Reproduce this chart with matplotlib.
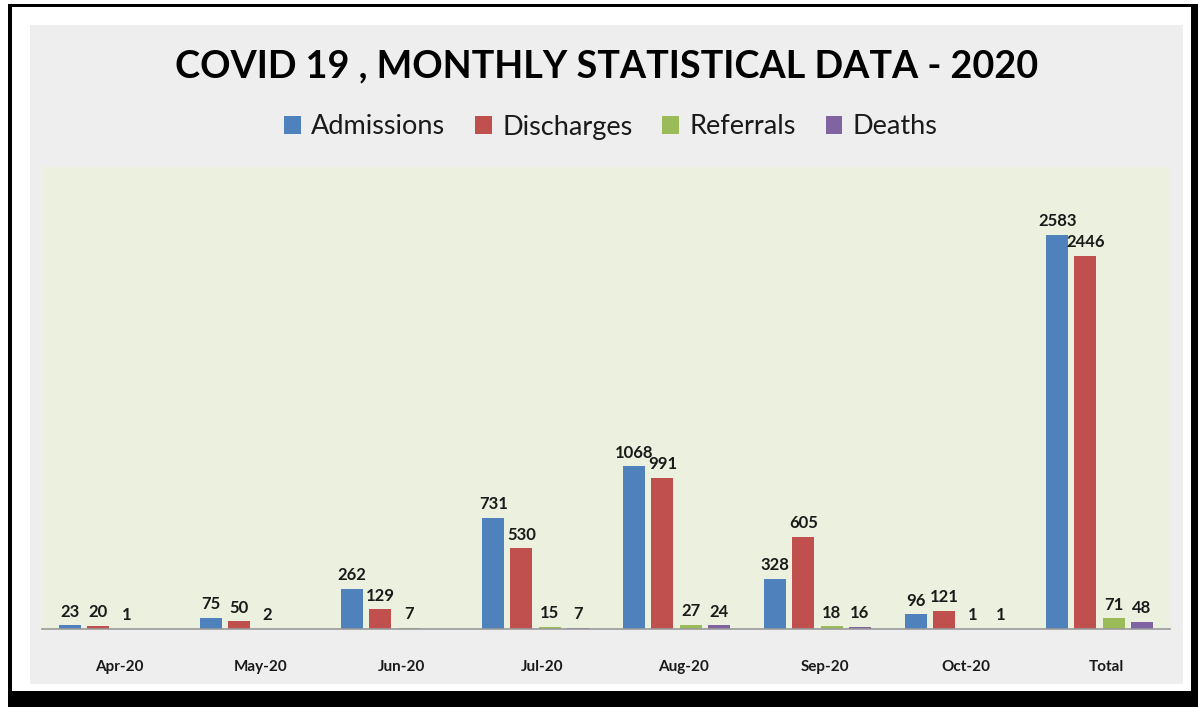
import matplotlib
matplotlib.use("Agg")
import matplotlib.pyplot as plt
from matplotlib.patches import Rectangle, Patch
import numpy as np

categories = ["Apr-20", "May-20", "Jun-20", "Jul-20", "Aug-20", "Sep-20", "Oct-20", "Total"]
admissions = [23, 75, 262, 731, 1068, 328, 96, 2583]
discharges = [20, 50, 129, 530, 991, 605, 121, 2446]
referrals = [1, 2, 7, 15, 27, 18, 1, 71]
deaths = [0, 0, 0, 7, 24, 16, 1, 48]
series_names = ["Admissions", "Discharges", "Referrals", "Deaths"]
colors = ["#4f81bd", "#c0504d", "#9bbb59", "#8064a2"]
title = "COVID 19 , MONTHLY STATISTICAL DATA - 2020"

plt.rcParams['font.family'] = ['Lato', 'DejaVu Sans']

W, H = 1204, 707
fig = plt.figure(figsize=(W / 100, H / 100), dpi=100)
fig.patch.set_facecolor("white")

def frect(x0, y0, x1, y1, **kw):
    # pixel coords (top-left origin) -> figure fraction
    r = Rectangle((x0 / W, 1 - y1 / H), (x1 - x0) / W, (y1 - y0) / H,
                  transform=fig.transFigure, **kw)
    fig.patches.append(r)

# frame with shadow
frect(8, 4, 1198, 707, facecolor="black", edgecolor="none", zorder=-3)
frect(12, 7, 1191, 691, facecolor="white", edgecolor="none", zorder=-2)
frect(30, 25, 1183, 684, facecolor="#eeeeee", edgecolor="none", zorder=-1)

ax = fig.add_axes([42 / W, 1 - 629 / H, (1170 - 42) / W, (629 - 167) / H])
ax.set_facecolor("#ebf1de")
ax.set_zorder(1)

x = np.arange(len(categories))
step = 0.2
width = 0.155
all_series = [admissions, discharges, referrals, deaths]
for i, (vals, name, c) in enumerate(zip(all_series, series_names, colors)):
    pos = x + (i - 1.5) * step
    ax.bar(pos, vals, width=width, color=c, label=name, zorder=2)
    for p, v in zip(pos, vals):
        if v == 0:
            continue
        ax.annotate(str(v), (p, v), xytext=(0, 4), textcoords="offset points",
                    ha="center", va="bottom", fontsize=12, fontweight="bold",
                    color="#1a1a1a")

ax.set_xlim(-0.5, len(categories) - 0.5)
ax.set_ylim(0, 3029)
ax.set_yticks([])
for s in ["top", "right", "left"]:
    ax.spines[s].set_visible(False)
ax.spines["bottom"].set_color("#9a9a9a")
ax.spines["bottom"].set_linewidth(1.2)
ax.set_xticks(x + 0.05)
ax.set_xticklabels(categories, fontsize=11, fontweight="bold", color="#1a1a1a")
ax.tick_params(axis="x", length=0, pad=22)

fig.text(607 / W, 1 - 66 / H, title, ha="center", va="center",
         fontsize=27.2, fontweight="bold", color="black")

handles = [Patch(facecolor=c, edgecolor="none") for c in colors]
fig.legend(handles, series_names, loc="center", bbox_to_anchor=(611 / W, 1 - 127 / H),
           ncol=4, frameon=False, fontsize=19.5, handlelength=0.6, handleheight=0.6,
           handletextpad=0.4, columnspacing=1.1, labelcolor="#1a1a1a")

fig.savefig("out.png", dpi=100, facecolor=fig.get_facecolor())
